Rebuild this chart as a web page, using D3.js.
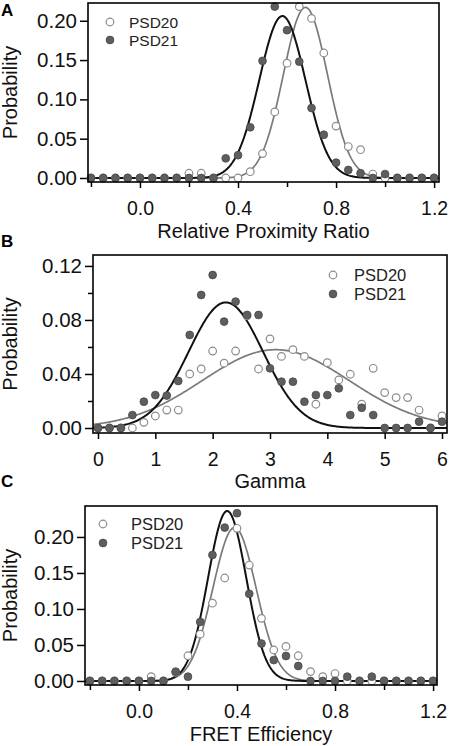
<!DOCTYPE html>
<html>
<head>
<meta charset="utf-8">
<script src="https://cdn.jsdelivr.net/npm/d3@7"></script>
<style>
  html, body { margin: 0; padding: 0; background: #fff; }
  svg { display: block; font-family: "Liberation Sans", Arial, Helvetica, sans-serif; }
</style>
</head>
<body>
<svg id="chart" width="450" height="746"></svg>
<script>
// ---------------- DATA ----------------
const seriesNames = ["PSD20", "PSD21"];

// Panel A : Relative Proximity Ratio
const binsA = [-0.2,-0.15,-0.1,-0.05,0,0.05,0.1,0.15,0.2,0.25,0.3,0.35,0.4,0.45,0.5,0.55,0.6,0.65,0.7,0.75,0.8,0.85,0.9,0.95,1.0,1.05,1.1,1.15,1.2];
const psd20A = [0,0,0,0,0,0,0,0,0.006,0.006,0,0,0,0.008,0.031,0.084,0.146,0.218,0.203,0.159,0.066,0.040,0.036,0.005,0,0,0,0,0];
const psd21A = [0,0,0,0,0,0,0,0,0,0,0,0.025,0.029,0.0645,0.149,0.218,0.188,0.148,0.089,0.055,0.0195,0.0102,0.006,0,0.005,0,0,0,0];
const fit20A = [0.217, 0.675, 0.090];   // amplitude, centre, width
const fit21A = [0.206, 0.581, 0.094];
const xTicksA = [0.0, 0.4, 0.8, 1.2];
const xTickLabelsA = ["0.0", "0.4", "0.8", "1.2"];
const xMinorA = [-0.2, 0.2, 0.6, 1.0];
const yTicksA = [0.00, 0.05, 0.10, 0.15, 0.20];
const yTickLabelsA = ["0.00", "0.05", "0.10", "0.15", "0.20"];

// Panel B : Gamma
const binsB = [0,0.2,0.4,0.6,0.8,1.0,1.2,1.4,1.6,1.8,2.0,2.2,2.4,2.6,2.8,3.0,3.2,3.4,3.6,3.8,4.0,4.2,4.4,4.6,4.8,5.0,5.2,5.4,5.6,5.8,6.0];
const psd20B = [0,0,0,0,0.0042,0.0089,0.0133,0.0133,0.040,0.0437,0.057,0.048,0.057,0.083,0.0437,0.066,0.053,0.058,0.053,0.0176,0.0484,0.0356,0.0398,0.0176,0.0442,0.0262,0.0225,0.0225,0.0133,0,0.0089];
const psd21B = [0,0,0,0.0096,0.0195,0.0244,0.024,0.0348,0.0689,0.0985,0.1133,0.0788,0.0936,0.0837,0.0837,0.0442,0.0343,0.0343,0.0195,0.0244,0.0244,0.0294,0.0096,0.015,0.0096,0,0,0,0.0047,0,0.0047];
const fit20B = [0.058, 3.10, 1.28];
const fit21B = [0.093, 2.23, 0.65];
const xTicksB = [0, 1, 2, 3, 4, 5, 6];
const xTickLabelsB = ["0", "1", "2", "3", "4", "5", "6"];
const xMinorB = [];
const yTicksB = [0.00, 0.04, 0.08, 0.12];
const yTickLabelsB = ["0.00", "0.04", "0.08", "0.12"];
const yMinorB = [0.02, 0.06, 0.10];

// Panel C : FRET Efficiency
const binsC = [-0.2,-0.15,-0.1,-0.05,0,0.05,0.1,0.15,0.2,0.25,0.3,0.35,0.4,0.45,0.5,0.55,0.6,0.65,0.7,0.75,0.8,0.85,0.9,0.95,1.0,1.05,1.1,1.15,1.2];
const psd20C = [0,0,0,0,0,0.006,0,0.012,0.035,0.065,0.108,0.143,0.212,0.161,0.087,0.043,0.048,0.035,0.013,0.006,0.0103,0,0,0,0,0,0,0,0];
const psd21C = [0,0,0,0,0,0,0,0.013,0.006,0.082,0.175,0.213,0.233,0.121,0.052,0.029,0.0347,0.0208,0,0,0,0.006,0,0.006,0,0,0,0,0];
const fit20C = [0.213, 0.390, 0.088];
const fit21C = [0.236, 0.360, 0.078];
const xTicksC = [0.0, 0.4, 0.8, 1.2];
const xTickLabelsC = ["0.0", "0.4", "0.8", "1.2"];
const xMinorC = [-0.2, 0.2, 0.6, 1.0];
const yTicksC = [0.00, 0.05, 0.10, 0.15, 0.20];
const yTickLabelsC = ["0.00", "0.05", "0.10", "0.15", "0.20"];

// ---------------- DRAWING ----------------
const svg = d3.select("#chart");
const COL_OPEN = "#8c8c8c", COL_FILL = "#5e5e5e", COL_FILL_STROKE = "#474747";
const COL_FIT20 = "#7a7a7a", COL_FIT21 = "#111";

function gauss(p, x) { return p[0] * Math.exp(-((x - p[1]) ** 2) / (2 * p[2] * p[2])); }

function drawPanel(cfg, idx) {
  const x = d3.scaleLinear().domain(cfg.xDomain).range([cfg.left, cfg.right]);
  const y = d3.scaleLinear().domain(cfg.yDomain).range([cfg.bottom, cfg.top]);
  const g = svg.append("g");

  const clipId = "clip" + idx;
  svg.append("clipPath").attr("id", clipId).append("rect")
    .attr("x", cfg.left).attr("y", cfg.top)
    .attr("width", cfg.right - cfg.left).attr("height", cfg.bottom - cfg.top);

  // y axis ticks
  const yAxis = d3.axisLeft(y).tickValues(cfg.yTicks).tickSize(8).tickPadding(3)
    .tickFormat((d, i) => cfg.yLabels[i]);
  const ya = g.append("g").attr("transform", `translate(${cfg.left},0)`).call(yAxis);
  ya.select(".domain").remove();
  ya.selectAll("line").attr("stroke", "#000").attr("stroke-width", 1.5);
  ya.selectAll("text").attr("font-size", 20.5).attr("fill", "#111")
    .attr("font-family", "Liberation Sans, Arial, sans-serif");
  if (cfg.yMinor && cfg.yMinor.length) {
    const ym = g.append("g").attr("transform", `translate(${cfg.left},0)`)
      .call(d3.axisLeft(y).tickValues(cfg.yMinor).tickSize(5).tickFormat(""));
    ym.select(".domain").remove();
    ym.selectAll("line").attr("stroke", "#000").attr("stroke-width", 1.5);
  }

  // x axis ticks
  const xAxis = d3.axisBottom(x).tickValues(cfg.xTicks).tickSize(6).tickPadding(13)
    .tickFormat((d, i) => cfg.xLabels[i]);
  const xa = g.append("g").attr("transform", `translate(0,${cfg.bottom})`).call(xAxis);
  xa.select(".domain").remove();
  xa.selectAll("line").attr("stroke", "#000").attr("stroke-width", 1.5);
  xa.selectAll("text").attr("font-size", 19.5).attr("fill", "#111")
    .attr("font-family", "Liberation Sans, Arial, sans-serif");
  if (cfg.xMinor && cfg.xMinor.length) {
    const xm = g.append("g").attr("transform", `translate(0,${cfg.bottom})`)
      .call(d3.axisBottom(x).tickValues(cfg.xMinor).tickSize(5).tickFormat(""));
    xm.select(".domain").remove();
    xm.selectAll("line").attr("stroke", "#000").attr("stroke-width", 1.5);
  }

  // fit curves
  const xs = d3.range(0, 401).map(i => cfg.xDomain[0] + (cfg.xDomain[1] - cfg.xDomain[0]) * i / 400);
  const line = d3.line().x(d => x(d)).curve(d3.curveLinear);
  const cg = g.append("g").attr("clip-path", `url(#${clipId})`);
  cg.append("path").datum(xs)
    .attr("d", line.y(d => y(gauss(cfg.fit20, d))))
    .attr("fill", "none").attr("stroke", COL_FIT20).attr("stroke-width", 1.7);
  cg.append("path").datum(xs)
    .attr("d", line.y(d => y(gauss(cfg.fit21, d))))
    .attr("fill", "none").attr("stroke", COL_FIT21).attr("stroke-width", 2);

  // points
  const pts20 = cfg.bins.map((b, i) => ({ x: b, y: cfg.psd20[i] }));
  const pts21 = cfg.bins.map((b, i) => ({ x: b, y: cfg.psd21[i] }));
  g.append("g").selectAll("circle").data(pts20).join("circle")
    .attr("cx", d => x(d.x)).attr("cy", d => y(d.y)).attr("r", 3.8)
    .attr("fill", "#fff").attr("stroke", COL_OPEN).attr("stroke-width", 1.2);
  g.append("g").selectAll("circle").data(pts21).join("circle")
    .attr("cx", d => x(d.x)).attr("cy", d => y(d.y)).attr("r", 3.9)
    .attr("fill", COL_FILL).attr("stroke", COL_FILL_STROKE).attr("stroke-width", 0.8);

  // frame
  g.append("rect").attr("x", cfg.left).attr("y", cfg.top)
    .attr("width", cfg.right - cfg.left).attr("height", cfg.bottom - cfg.top)
    .attr("fill", "none").attr("stroke", "#000").attr("stroke-width", 1.6);

  // legend
  const lg = g.append("g");
  seriesNames.forEach((name, i) => {
    const cy = cfg.legend.y + i * cfg.legend.dy;
    if (i === 0) {
      lg.append("circle").attr("cx", cfg.legend.x).attr("cy", cy).attr("r", 3.8)
        .attr("fill", "#fff").attr("stroke", COL_OPEN).attr("stroke-width", 1.2);
    } else {
      lg.append("circle").attr("cx", cfg.legend.x).attr("cy", cy).attr("r", 3.9)
        .attr("fill", COL_FILL).attr("stroke", COL_FILL_STROKE).attr("stroke-width", 0.8);
    }
    lg.append("text").attr("x", cfg.legend.tx).attr("y", cy + 5.5)
      .attr("font-size", cfg.legend.fs).attr("fill", "#222").text(name);
  });

  // axis titles
  g.append("text").attr("x", (cfg.left + cfg.right) / 2).attr("y", cfg.xTitleY)
    .attr("text-anchor", "middle").attr("font-size", 20).attr("fill", "#111").text(cfg.xTitle);
  g.append("text").attr("transform", `translate(17,${(cfg.top + cfg.bottom) / 2}) rotate(-90)`)
    .attr("text-anchor", "middle").attr("font-size", 20).attr("fill", "#111").text("Probability");

  // panel letter
  g.append("text").attr("x", 1).attr("y", cfg.letterY)
    .attr("font-size", 17).attr("font-weight", "bold").attr("fill", "#000").text(cfg.letter);
}

drawPanel({
  left: 88, right: 439, top: 3, bottom: 182,
  xDomain: [-0.212, 1.22], yDomain: [-0.0051, 0.2226],
  bins: binsA, psd20: psd20A, psd21: psd21A, fit20: fit20A, fit21: fit21A,
  xTicks: xTicksA, xLabels: xTickLabelsA, xMinor: xMinorA,
  yTicks: yTicksA, yLabels: yTickLabelsA, yMinor: [],
  legend: { x: 110, y: 22, dy: 18, tx: 129, fs: 15.5 },
  xTitle: "Relative Proximity Ratio", xTitleY: 238,
  letter: "A", letterY: 16
}, 0);

drawPanel({
  left: 93, right: 447, top: 255, bottom: 433,
  xDomain: [-0.087, 6.087], yDomain: [-0.0037, 0.1281],
  bins: binsB, psd20: psd20B, psd21: psd21B, fit20: fit20B, fit21: fit21B,
  xTicks: xTicksB, xLabels: xTickLabelsB, xMinor: xMinorB,
  yTicks: yTicksB, yLabels: yTickLabelsB, yMinor: yMinorB,
  legend: { x: 333, y: 275, dy: 19, tx: 354, fs: 16.5 },
  xTitle: "Gamma", xTitleY: 488,
  letter: "B", letterY: 247
}, 1);

drawPanel({
  left: 85, right: 437, top: 506, bottom: 685,
  xDomain: [-0.22, 1.216], yDomain: [-0.0056, 0.243],
  bins: binsC, psd20: psd20C, psd21: psd21C, fit20: fit20C, fit21: fit21C,
  xTicks: xTicksC, xLabels: xTickLabelsC, xMinor: xMinorC,
  yTicks: yTicksC, yLabels: yTickLabelsC, yMinor: [],
  legend: { x: 103, y: 524, dy: 19, tx: 131, fs: 16.5 },
  xTitle: "FRET Efficiency", xTitleY: 741,
  letter: "C", letterY: 487
}, 2);
</script>
</body>
</html>
